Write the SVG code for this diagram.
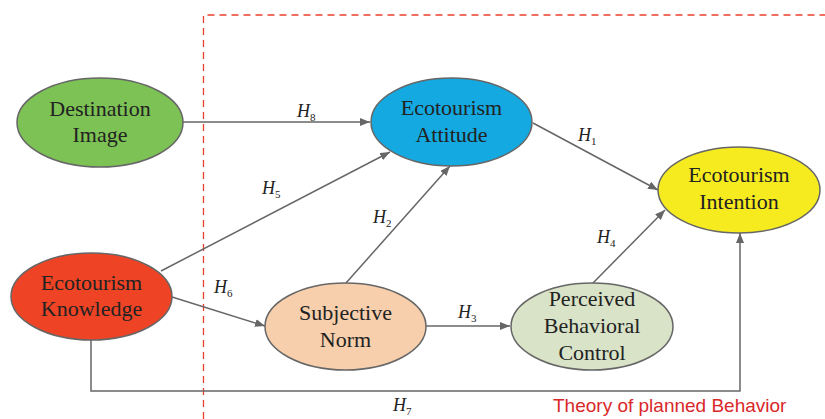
<svg xmlns="http://www.w3.org/2000/svg" width="825" height="419" viewBox="0 0 825 419">
<style>
.node{stroke:#666;stroke-width:1.5}
.conn{stroke:#666;stroke-width:1.5;fill:none}
</style>
<defs>
<marker id="arr" viewBox="0 0 10 8" refX="10" refY="4" markerWidth="10" markerHeight="8" markerUnits="userSpaceOnUse" orient="auto">
<path d="M0,0 L10,4 L0,8 Z" fill="#666"/>
</marker>
</defs>
<rect width="825" height="419" fill="#fff"/>
<path d="M203.5,419 V15 H825" fill="none" stroke="#e8422e" stroke-width="1.3" stroke-dasharray="7,5"/>
<g id="connectors">
<line class="conn" x1="183" y1="122" x2="370" y2="122" marker-end="url(#arr)"/>
<line class="conn" x1="533" y1="123" x2="658" y2="190" marker-end="url(#arr)"/>
<line class="conn" x1="161" y1="271" x2="390" y2="152" marker-end="url(#arr)"/>
<line class="conn" x1="346" y1="283" x2="450" y2="166" marker-end="url(#arr)"/>
<line class="conn" x1="172" y1="297" x2="265" y2="326" marker-end="url(#arr)"/>
<line class="conn" x1="426" y1="326" x2="510" y2="326" marker-end="url(#arr)"/>
<line class="conn" x1="593" y1="283" x2="665" y2="210" marker-end="url(#arr)"/>
<polyline class="conn" points="91,340 91,391 740,391 740,233" marker-end="url(#arr)"/>
<text font-family="serif" font-size="18" font-style="italic" fill="#222" x="297" y="117">H<tspan font-size="11" font-style="normal" dy="4">8</tspan></text>
<text font-family="serif" font-size="18" font-style="italic" fill="#222" x="578" y="141">H<tspan font-size="11" font-style="normal" dy="4">1</tspan></text>
<text font-family="serif" font-size="18" font-style="italic" fill="#222" x="262" y="194">H<tspan font-size="11" font-style="normal" dy="4">5</tspan></text>
<text font-family="serif" font-size="18" font-style="italic" fill="#222" x="373" y="223">H<tspan font-size="11" font-style="normal" dy="4">2</tspan></text>
<text font-family="serif" font-size="18" font-style="italic" fill="#222" x="214" y="293">H<tspan font-size="11" font-style="normal" dy="4">6</tspan></text>
<text font-family="serif" font-size="18" font-style="italic" fill="#222" x="458" y="318">H<tspan font-size="11" font-style="normal" dy="4">3</tspan></text>
<text font-family="serif" font-size="18" font-style="italic" fill="#222" x="597" y="243">H<tspan font-size="11" font-style="normal" dy="4">4</tspan></text>
<text font-family="serif" font-size="18" font-style="italic" fill="#222" x="393" y="411">H<tspan font-size="11" font-style="normal" dy="4">7</tspan></text>
</g>
<g id="destination-image">
<ellipse class="node" cx="100" cy="122.5" rx="83" ry="44.5" fill="#7dc254"/>
<text font-family="serif" font-size="22" fill="#222" text-anchor="middle" x="100" y="116">Destination</text>
<text font-family="serif" font-size="22" fill="#222" text-anchor="middle" x="100" y="142">Image</text>
</g>
<g id="ecotourism-attitude">
<ellipse class="node" cx="451.5" cy="122" rx="80.5" ry="44" fill="#14a9e0"/>
<text font-family="serif" font-size="22" fill="#222" text-anchor="middle" x="451.5" y="115">Ecotourism</text>
<text font-family="serif" font-size="22" fill="#222" text-anchor="middle" x="451.5" y="142">Attitude</text>
</g>
<g id="ecotourism-intention">
<ellipse class="node" cx="739" cy="190" rx="81" ry="43" fill="#f5eb1f"/>
<text font-family="serif" font-size="22" fill="#222" text-anchor="middle" x="739" y="182">Ecotourism</text>
<text font-family="serif" font-size="22" fill="#222" text-anchor="middle" x="739" y="209">Intention</text>
</g>
<g id="ecotourism-knowledge">
<ellipse class="node" cx="91.5" cy="296.5" rx="80.5" ry="43.5" fill="#ee4425"/>
<text font-family="serif" font-size="22" fill="#222" text-anchor="middle" x="91.5" y="290">Ecotourism</text>
<text font-family="serif" font-size="22" fill="#222" text-anchor="middle" x="91.5" y="316">Knowledge</text>
</g>
<g id="subjective-norm">
<ellipse class="node" cx="345.5" cy="326.5" rx="80.5" ry="43.5" fill="#f7cfac"/>
<text font-family="serif" font-size="22" fill="#222" text-anchor="middle" x="345.5" y="320">Subjective</text>
<text font-family="serif" font-size="22" fill="#222" text-anchor="middle" x="345.5" y="347">Norm</text>
</g>
<g id="perceived-behavioral-control">
<ellipse class="node" cx="592" cy="326.5" rx="81" ry="43.5" fill="#d8e3c8"/>
<text font-family="serif" font-size="22" fill="#222" text-anchor="middle" x="592" y="306">Perceived</text>
<text font-family="serif" font-size="22" fill="#222" text-anchor="middle" x="592" y="333">Behavioral</text>
<text font-family="serif" font-size="22" fill="#222" text-anchor="middle" x="592" y="360">Control</text>
</g>
<text x="553" y="412" font-family="Liberation Sans, sans-serif" font-size="19" fill="#d9282a">Theory of planned Behavior</text>
</svg>
